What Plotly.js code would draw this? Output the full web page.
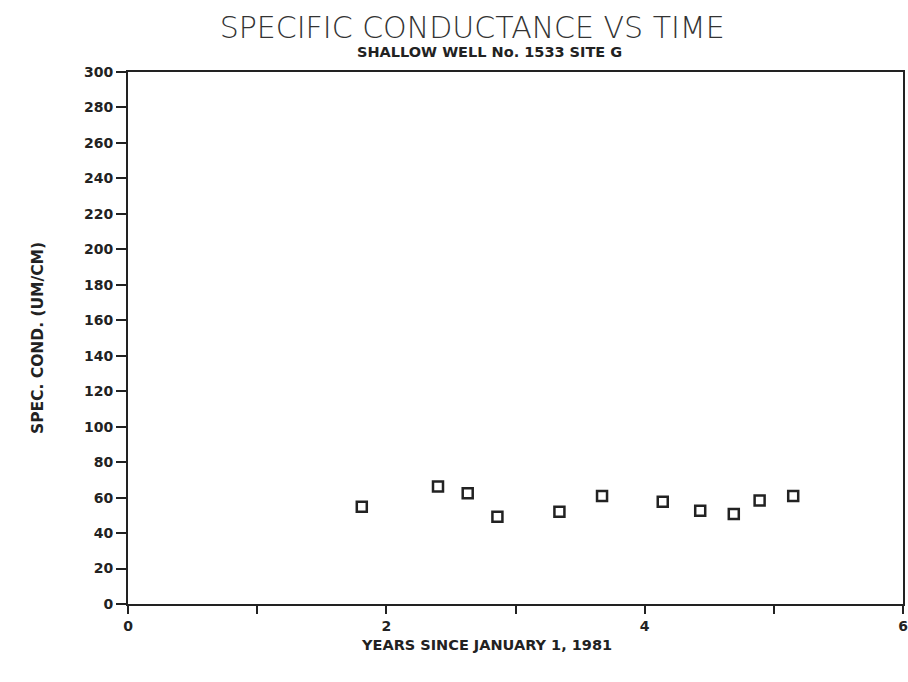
<!DOCTYPE html>
<html>
<head>
<meta charset="utf-8">
<script src="https://cdn.plot.ly/plotly-3.0.1.min.js"></script>
<style>html,body{margin:0;padding:0;background:#fff;}#chart{width:908px;height:682px;}</style>
</head>
<body>
<div id="chart"></div>
<script>
const years = [1.81, 2.40, 2.63, 2.86, 3.34, 3.67, 4.14, 4.43, 4.69, 4.89, 5.15];
const specCond = [54.9, 66.2, 62.4, 49.2, 52.0, 60.9, 57.7, 52.6, 50.7, 58.4, 60.9];
const xTickVals = [0, 2, 4, 6];
const xTickText = ['0', '2', '4', '6'];
const yTickVals = [0,20,40,60,80,100,120,140,160,180,200,220,240,260,280,300];

const trace = {
  x: years, y: specCond, type: 'scatter', mode: 'markers',
  marker: {symbol: 'square-open', size: 10, color: '#222', line: {width: 2.5, color: '#222'}},
  hoverinfo: 'skip'
};

const layout = {
  width: 908, height: 682,
  margin: {l: 128, r: 5, t: 72, b: 78},
  paper_bgcolor: '#fff', plot_bgcolor: '#fff',
  showlegend: false,
  font: {family: 'DejaVu Sans, sans-serif', color: '#222'},
  title: {text: 'SPECIFIC CONDUCTANCE VS TIME', x: 0.52, xanchor: 'center', y: 0.959, yanchor: 'middle',
          font: {family: 'DejaVu Sans, sans-serif', size: 30, color: '#333', weight: 200}},
  annotations: [
    {text: '<b>SHALLOW WELL No. 1533 SITE G</b>', xref: 'paper', yref: 'paper', x: 0.466, y: 1.0, yshift: 20,
     xanchor: 'center', yanchor: 'middle', showarrow: false,
     font: {family: 'DejaVu Sans, sans-serif', size: 14.5, color: '#222'}},
    {text: '<b>YEARS SINCE JANUARY 1, 1981</b>', xref: 'paper', yref: 'paper', x: 0.462, y: 0, yshift: -41,
     xanchor: 'center', yanchor: 'middle', showarrow: false,
     font: {family: 'DejaVu Sans, sans-serif', size: 14.5, color: '#222'}},
    {text: '<b>SPEC. COND. (UM/CM)</b>', xref: 'paper', yref: 'paper', x: 0, xshift: -90, y: 0.5,
     xanchor: 'center', yanchor: 'middle', showarrow: false, textangle: -90,
     font: {family: 'DejaVu Sans, sans-serif', size: 15.5, color: '#222'}}
  ],
  xaxis: {
    range: [0, 6], tickvals: xTickVals, ticktext: xTickText,
    ticks: 'outside', ticklen: 8, tickwidth: 2, tickcolor: '#222',
    minor: {dtick: 1, ticks: 'outside', ticklen: 8, tickwidth: 2, tickcolor: '#222', showgrid: false},
    showline: true, linewidth: 2, linecolor: '#222', mirror: true,
    showgrid: false, zeroline: false,
    tickfont: {size: 14, family: 'DejaVu Sans, sans-serif', weight: 'bold', color: '#222'}
  },
  yaxis: {
    range: [0, 300], tickvals: yTickVals,
    ticks: 'outside', ticklen: 10, tickwidth: 2, tickcolor: '#222',
    showline: true, linewidth: 2, linecolor: '#222', mirror: true,
    showgrid: false, zeroline: false,
    tickfont: {size: 14, family: 'DejaVu Sans, sans-serif', weight: 'bold', color: '#222'}
  }
};

Plotly.newPlot('chart', [trace], layout, {displayModeBar: false, staticPlot: true});
</script>
</body>
</html>
